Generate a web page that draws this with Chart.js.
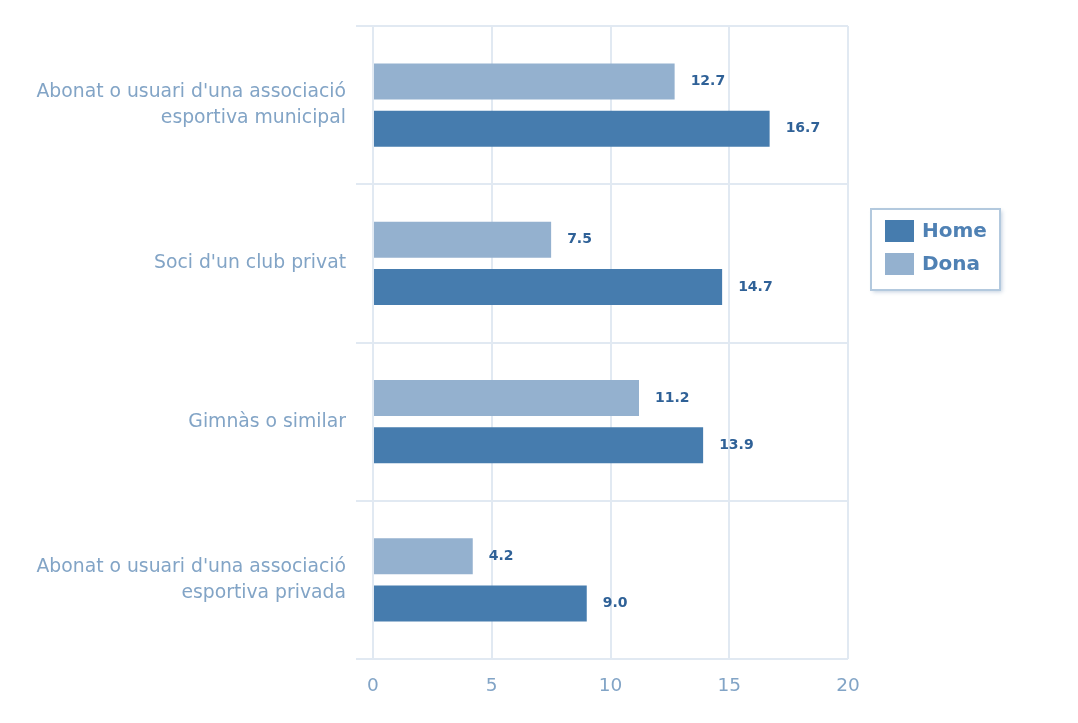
<!DOCTYPE html>
<html lang="ca">
<head>
  <meta charset="UTF-8">
  <title>Abonats per sexe</title>
  <style>
    html, body { margin: 0; padding: 0; background: #fff; }
    #wrap { width: 1078px; height: 723px; position: relative; }
  </style>
</head>
<body>

<div id="wrap">
  <canvas id="myChart" width="1078" height="723"></canvas>
</div>

<script src="https://cdn.jsdelivr.net/npm/chart.js"></script>

<script>
  const categories = [
    ["Abonat o usuari d'una associació", "esportiva municipal"],
    "Soci d'un club privat",
    "Gimnàs o similar",
    ["Abonat o usuari d'una associació", "esportiva privada"]
  ];
  const homeValues = [16.7, 14.7, 13.9, 9.0];
  const donaValues = [12.7, 7.5, 11.2, 4.2];
  const xTicks = [0, 5, 10, 15, 20];

  const FONT = "'DejaVu Sans', Verdana, sans-serif";

  // etiquetes de valor al final de cada barra
  const valueLabels = {
    id: 'valueLabels',
    afterDatasetsDraw(chart) {
      const ctx = chart.ctx;
      ctx.save();
      ctx.font = 'bold 14px ' + FONT;
      ctx.fillStyle = '#2f6197';
      ctx.textAlign = 'left';
      ctx.textBaseline = 'middle';
      chart.data.datasets.forEach((ds, i) => {
        chart.getDatasetMeta(i).data.forEach((bar, j) => {
          ctx.fillText(ds.data[j].toFixed(1), bar.x + 16, bar.y);
        });
      });
      ctx.restore();
    }
  };

  // llegenda amb caixa
  const boxLegend = {
    id: 'boxLegend',
    afterDraw(chart) {
      const ctx = chart.ctx;
      const x = 871, y = 209, w = 129, h = 81;
      ctx.save();
      ctx.shadowColor = 'rgba(120,150,185,0.45)';
      ctx.shadowBlur = 4;
      ctx.shadowOffsetX = 2;
      ctx.shadowOffsetY = 2;
      ctx.fillStyle = '#fff';
      ctx.fillRect(x, y, w, h);
      ctx.shadowColor = 'transparent';
      ctx.strokeStyle = '#b3c9de';
      ctx.lineWidth = 2;
      ctx.strokeRect(x, y, w, h);
      const items = [chart.data.datasets[1], chart.data.datasets[0]];
      ctx.font = 'bold 20px ' + FONT;
      ctx.textAlign = 'left';
      ctx.textBaseline = 'middle';
      items.forEach((ds, i) => {
        const cy = 231 + i * 33;
        ctx.fillStyle = ds.backgroundColor;
        ctx.fillRect(885, cy - 11, 29, 22);
        ctx.fillStyle = '#4f81b4';
        ctx.fillText(ds.label, 922, cy + 1);
      });
      ctx.restore();
    }
  };

  const ctx = document.getElementById('myChart').getContext('2d');
  const myChart = new Chart(ctx, {
    type: 'bar',
    data: {
      labels: categories,
      datasets: [
        { label: 'Dona', data: donaValues, backgroundColor: '#94b1cf' },
        { label: 'Home', data: homeValues, backgroundColor: '#467cae' }
      ]
    },
    options: {
      indexAxis: 'y',
      responsive: false,
      animation: false,
      devicePixelRatio: 1,
      layout: { padding: { top: 26, right: 230, left: 0, bottom: 0 } },
      datasets: {
        bar: { categoryPercentage: 0.595, barPercentage: 0.766 }
      },
      plugins: {
        legend: { display: false },
        tooltip: { enabled: false }
      },
      scales: {
        x: {
          min: 0,
          max: 20,
          afterBuildTicks(scale) {
            scale.ticks = xTicks.map(v => ({ value: v }));
          },
          afterFit(scale) { scale.height = 64; },
          grid: { color: '#e1e9f2', lineWidth: 2, drawTicks: false },
          border: { display: false },
          ticks: {
            padding: 16,
            color: '#82a4c6',
            font: { family: FONT, size: 18.5 }
          }
        },
        y: {
          afterFit(scale) {
            scale.width = 373;
            scale.paddingTop = 0;
            scale.paddingBottom = 0;
          },
          grid: { offset: true, color: '#e1e9f2', lineWidth: 2, tickLength: 17 },
          border: { display: false },
          ticks: {
            padding: 10,
            color: '#82a4c6',
            font: { family: FONT, size: 18.8, lineHeight: 1.4 }
          }
        }
      }
    },
    plugins: [valueLabels, boxLegend]
  });
</script>
</body>
</html>
